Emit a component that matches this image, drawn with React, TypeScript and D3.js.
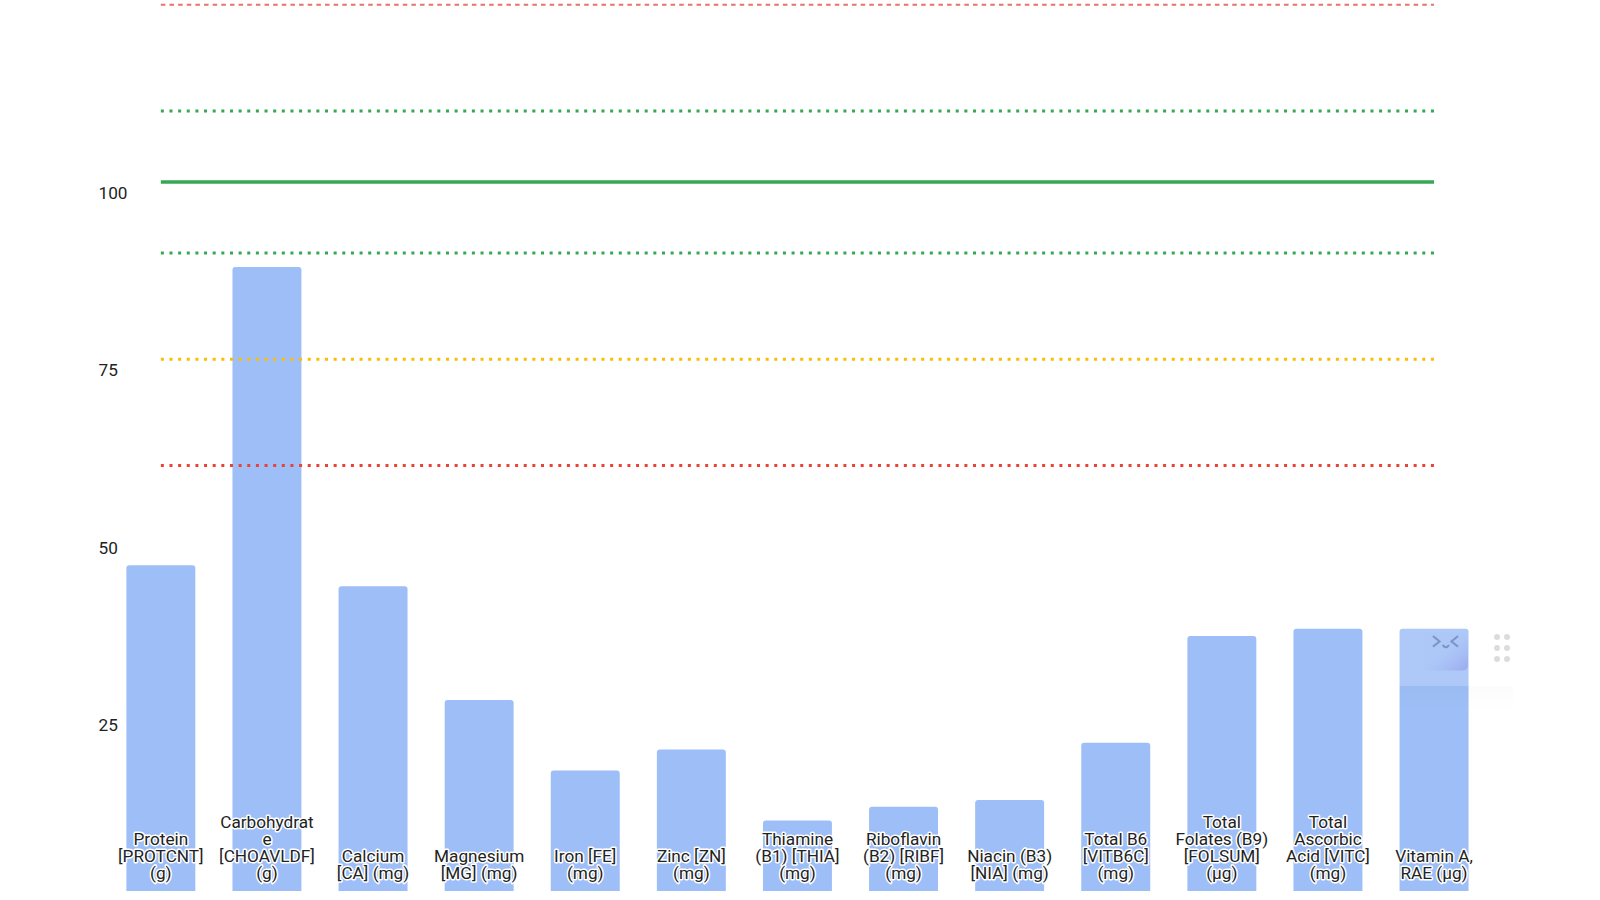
import React from "react";
import * as d3 from "d3";

const categories = ["Protein [PROTCNT] (g)","Carbohydrate [CHOAVLDF] (g)","Calcium [CA] (mg)","Magnesium [MG] (mg)","Iron [FE] (mg)","Zinc [ZN] (mg)","Thiamine (B1) [THIA] (mg)","Riboflavin (B2) [RIBF] (mg)","Niacin (B3) [NIA] (mg)","Total B6 [VITB6C] (mg)","Total Folates (B9) [FOLSUM] (µg)","Total Ascorbic Acid [VITC] (mg)","Vitamin A, RAE (µg)"];
const categoryLines = [["Protein","[PROTCNT]","(g)"],["Carbohydrat","e","[CHOAVLDF]","(g)"],["Calcium","[CA] (mg)"],["Magnesium","[MG] (mg)"],["Iron [FE]","(mg)"],["Zinc [ZN]","(mg)"],["Thiamine","(B1) [THIA]","(mg)"],["Riboflavin","(B2) [RIBF]","(mg)"],["Niacin (B3)","[NIA] (mg)"],["Total B6","[VITB6C]","(mg)"],["Total","Folates (B9)","[FOLSUM]","(µg)"],["Total","Ascorbic","Acid [VITC]","(mg)"],["Vitamin A,","RAE (µg)"]];
const values = [45.95,88,43,26.95,17,19.95,9.95,11.9,12.85,20.9,35.95,37,37];
const yTicks = [25,50,75,100];
const refValues = [125,110,100,90,75,60];
const refColors = ["#e57368","#34a853","#34a853","#34a853","#fbbc04","#ea4335"];
const refWidths = [2,3,3.5,3,3,3];
const refDashes = ["4.5 4.14","3 5.64",null,"3 5.64","3 5.64","3 5.64"];

const FONT = "Roboto, sans-serif";
const BAR = "#9dbef6";

export default function App() {
  const x = d3.scaleBand<string>().domain(categories).range([107.8, 1487.1]).paddingInner(0.35).paddingOuter(0.175);
  const y = d3.scaleLinear().domain([0, 100]).range([891, 182]);
  const lineGen = d3.line<[number, number]>();
  const cx = (c: string) => x(c)! + x.bandwidth() / 2;
  const first = cx(categories[0]);
  const last = cx(categories[categories.length - 1]);
  const r = 3;
  return (
    <svg width={1600} height={900} style={{ position: "fixed", left: 0, top: 0, background: "#fff" }} fontFamily={FONT}>
      <defs>
        <linearGradient id="face" x1="0" y1="0" x2="1" y2="1">
          <stop offset="0.45" stopColor="#a9c3f8" stopOpacity="0.2" />
          <stop offset="1" stopColor="#9aa8ee" />
        </linearGradient>
        <linearGradient id="shade" x1="0" y1="0" x2="0" y2="1">
          <stop offset="0" stopColor="#000" stopOpacity="0.015" />
          <stop offset="1" stopColor="#000" stopOpacity="0" />
        </linearGradient>
      </defs>
      {yTicks.map((t) => (
        <text key={t} x={98.5} y={y(t) + 17} fontSize={17.2} fill="#222">{t}</text>
      ))}
      {categories.map((c, i) => {
        const l = x(c)!, w = x.bandwidth(), top = y(values[i]), b = y(0);
        return <path key={c} fill={BAR} d={`M${l},${b}V${top + r}Q${l},${top} ${l + r},${top}H${l + w - r}Q${l + w},${top} ${l + w},${top + r}V${b}Z`} />;
      })}
      {refValues.map((v, i) => (
        <path key={v} d={lineGen([[first, y(v)], [last, y(v)]])!} stroke={refColors[i]} strokeWidth={refWidths[i]} strokeDasharray={refDashes[i] ?? undefined} fill="none" />
      ))}
      {categories.map((c, i) => {
        const lines = categoryLines[i];
        return (
          <text key={c} textAnchor="middle" fontSize={17.2} fill="#222" stroke="#fff" strokeWidth={3} paintOrder="stroke" strokeLinejoin="round">
            {lines.map((s, j) => (
              <tspan key={j} x={cx(c)} y={879.3 - (lines.length - 1 - j) * 17.2}>{s}</tspan>
            ))}
          </text>
        );
      })}
      {/* floating widget overlay */}
      <rect x={1383} y={629} width={130} height={57} fill="#fff" fillOpacity={0.18} />
      <rect x={1400} y={686} width={113} height={26} fill="url(#shade)" />
      <rect x={1423} y={632} width={45} height={38.5} rx={5} fill="url(#face)" />
      <path d="M1433,636L1439.5,641.5L1433,646.7M1458,636L1451.5,641.5L1458,646.7M1442.7,645Q1446,649.5 1449,645" fill="none" stroke="#7f95c8" strokeWidth={2.2} />
      {[637, 648, 659].map((cy) => [1497, 1507].map((dx) => (
        <circle key={`${cy}-${dx}`} cx={dx} cy={cy} r={3} fill="#dcdcdc" />
      )))}
    </svg>
  );
}
